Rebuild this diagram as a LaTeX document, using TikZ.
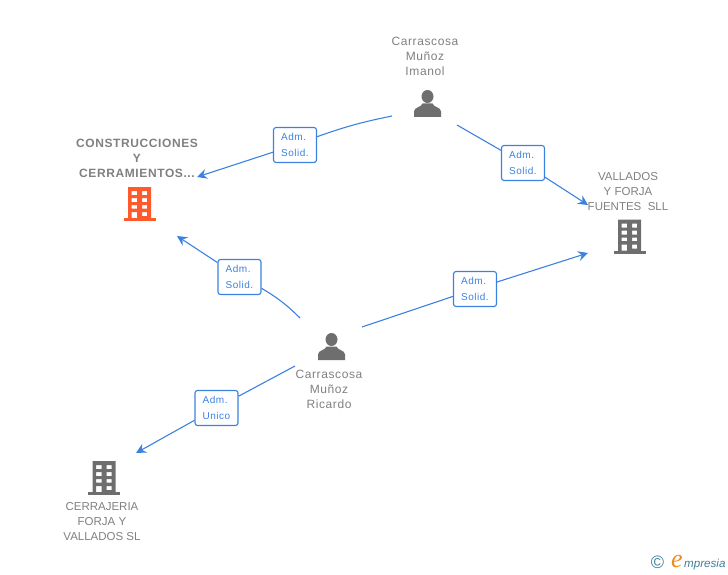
\documentclass[tikz,border=0pt]{standalone}
\usepackage{fontspec}
\setmainfont{Liberation Sans}
\newfontfamily\labelfont[LetterSpace=5]{Liberation Sans}
\newfontfamily\logofont{Liberation Serif}
\usetikzlibrary{arrows.meta}
\definecolor{linkblue}{HTML}{3B82E0}
\definecolor{icongray}{HTML}{6E6E6E}
\definecolor{textgray}{HTML}{808080}
\definecolor{iconorange}{HTML}{FF5A2C}
\definecolor{logoteal}{HTML}{3F7F9A}
\definecolor{logoorange}{HTML}{F08A1D}
\tikzset{
  namelabel/.style={text=textgray, align=center, font=\labelfont\fontsize{12}{15}\selectfont, inner sep=0pt},
  capslabel/.style={namelabel, font=\fontsize{11.5}{15}\selectfont},
  rolebox/.style={draw=linkblue, fill=white, rounded corners=2.5pt, line width=1.1pt, minimum width=43pt, minimum height=35pt, inner sep=0pt, text=linkblue, align=left, font=\labelfont\fontsize{10}{16}\selectfont},
  link/.style={linkblue, line width=1.1pt},
  linkarrow/.style={link, -{Stealth[length=10pt, width=10pt, inset=3.5pt]}},
  pics/building/.style={code={
    \fill [#1] (-16,14) rectangle (16,17);
    \fill [#1, even odd rule] (-11.5,-17) rectangle (11.5,14.5)
      (-8,-13) rectangle (-2.5,-9) (2.5,-13) rectangle (7.5,-9)
      (-8,-6) rectangle (-2.5,-2) (2.5,-6) rectangle (7.5,-2)
      (-8,1) rectangle (-2.5,4.5) (2.5,1) rectangle (7.5,4.5)
      (-8,8) rectangle (-2.5,14) (2.5,8) rectangle (7.5,12);
  }},
  pics/person/.style={code={
    \fill [icongray] (0,-7) ellipse (6 and 6.5);
    \fill [icongray] (-13.5,13.5) -- (-13.5,8) .. controls (-13.5,3.5) and (-6,4) .. (-5,0) -- (5,0) .. controls (6,4) and (13.5,3.5) .. (13.5,8) -- (13.5,13.5) -- cycle;
  }},
}
\begin{document}
\begin{tikzpicture}[x=1pt, y=-1pt]

\useasboundingbox (0,0) rectangle (728,575);

\pic at (139.5,204) {building=iconorange};
\pic at (629.5,236.5) {building=icongray};
\pic at (104,478) {building=icongray};
\pic at (427.5,103.5) {person};
\pic at (331.5,346.5) {person};

\node [namelabel] (imanol) at (425,56) {Carrascosa\\Muñoz\\Imanol};
\node [namelabel] (ricardo) at (329,389) {Carrascosa\\Muñoz\\Ricardo};
\node [namelabel, font=\labelfont\bfseries\fontsize{12}{15}\selectfont] (construcciones) at (137,158) {CONSTRUCCIONES\\Y\\CERRAMIENTOS...};
\node [capslabel] (vallados) at (628,191.5) {VALLADOS\\Y FORJA\\FUENTES\ \ SLL};
\node [capslabel] (cerrajeria) at (102,522) {CERRAJERIA\\FORJA Y\\VALLADOS SL};

\coordinate (imanolL) at (392,116);
\coordinate (imanolR) at (457,125);
\coordinate (ricardoUL) at (300,318);
\coordinate (ricardoUR) at (362,327);
\coordinate (ricardoDL) at (295,366);
\coordinate (construccionesA) at (197,177);
\coordinate (construccionesB) at (177,236);
\coordinate (valladosA) at (588,205);
\coordinate (valladosB) at (588,253);
\coordinate (cerrajeriaA) at (136,453);

\node [rolebox] (solid1) at (295,145) {Adm.\\Solid.};
\node [rolebox] (solid2) at (523,163) {Adm.\\Solid.};
\node [rolebox] (solid3) at (239.5,277) {Adm.\\Solid.};
\node [rolebox] (solid4) at (475,289) {Adm.\\Solid.};
\node [rolebox] (unico) at (216.5,408) {Adm.\\Unico};

\draw [link] (imanolL) to [bend right=4] (solid1);
\draw [linkarrow] (solid1) -- (construccionesA);
\draw [link] (imanolR) -- (solid2);
\draw [linkarrow] (solid2) -- (valladosA);
\draw [link] (ricardoUL) to [bend right=7] (solid3);
\draw [linkarrow] (solid3) -- (construccionesB);
\draw [link] (ricardoUR) -- (solid4);
\draw [linkarrow] (solid4) -- (valladosB);
\draw [link] (ricardoDL) -- (unico);
\draw [linkarrow] (unico) -- (cerrajeriaA);

\node [inner sep=0pt, text=logoteal, font=\fontsize{18}{18}\selectfont] (copyright) at (657.5,562.5) {©};
\node [inner sep=0pt, text=logoorange, font=\logofont\itshape\fontsize{26}{26}\selectfont] (logoe) at (677,561) {e};
\node [inner sep=0pt, anchor=west, text=logoteal, font=\itshape\fontsize{11.6}{13}\selectfont] (logotext) at (684,564) {mpresia};

\end{tikzpicture}
\end{document}
